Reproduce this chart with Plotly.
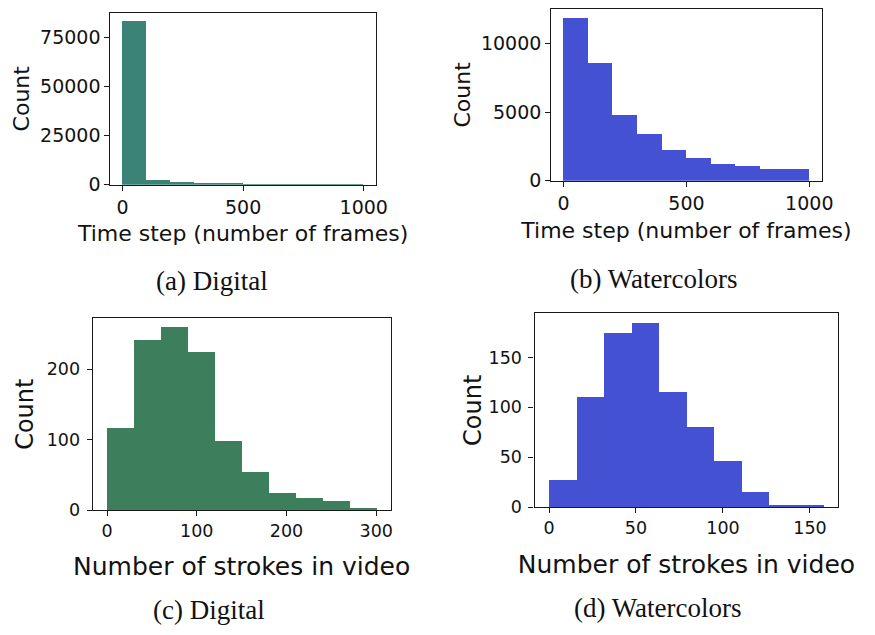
import plotly.graph_objects as go

# ---------------- data ----------------
# (a) Digital - time step histogram
a_edges = [0, 100, 200, 300, 400, 500, 600, 700, 800, 900, 1000]
a_counts = [83000, 2500, 1500, 600, 500, 450, 400, 120, 60, 40]
# (b) Watercolors - time step histogram
b_edges = [0, 100, 200, 300, 400, 500, 600, 700, 800, 900, 1000]
b_counts = [11900, 8600, 4830, 3400, 2250, 1680, 1250, 1100, 860, 860]
# (c) Digital - number of strokes in video
c_edges = [0, 30, 60, 90, 120, 150, 180, 210, 240, 270, 300]
c_counts = [116, 241, 259, 224, 97, 53, 24, 16, 12, 3]
# (d) Watercolors - number of strokes in video
d_edges = [0, 15.8, 31.6, 47.4, 63.2, 79.0, 94.8, 110.6, 126.4, 142.2, 158.0]
d_counts = [27, 110, 174, 184, 115, 80, 46, 15, 2, 2]

captions = ["(a) Digital", "(b) Watercolors", "(c) Digital", "(d) Watercolors"]
x_titles = ["Time step (number of frames)", "Time step (number of frames)",
            "Number of strokes in video", "Number of strokes in video"]
y_title = "Count"

GREEN_A = "#3b8377"
GREEN_C = "#3d7e5c"
BLUE = "#4351d2"

W, H = 875, 635


def px_x(p):
    return p / W


def px_y(p):
    return 1 - p / H


def centers(edges):
    return [(edges[i] + edges[i + 1]) / 2 for i in range(len(edges) - 1)]


def widths(edges):
    return [edges[i + 1] - edges[i] for i in range(len(edges) - 1)]


panels = [
    dict(edges=a_edges, counts=a_counts, color=GREEN_A,
         dx=(112, 381), dy=(13, 188), xr=[-50, 1050], yr=[0, 87300],
         xt=[0, 500, 1000], yt=[0, 25000, 50000, 75000], tf=19, tt=22, yf=22,
         xs=8, ys=4, ls=0),
    dict(edges=b_edges, counts=b_counts, color=BLUE,
         dx=(559, 833), dy=(9, 184), xr=[-50, 1050], yr=[0, 12550],
         xt=[0, 500, 1000], yt=[0, 5000, 10000], tf=19, tt=22, yf=22,
         xs=9, ys=4, ls=0),
    dict(edges=c_edges, counts=c_counts, color=GREEN_C,
         dx=(94, 396), dy=(324, 519), xr=[-16, 316], yr=[0, 272],
         xt=[0, 100, 200, 300], yt=[0, 100, 200], tf=17.5, tt=25, yf=24,
         xs=17, ys=6, ls=3),
    dict(edges=d_edges, counts=d_counts, color=BLUE,
         dx=(542, 850), dy=(319, 516), xr=[-8.3, 166.3], yr=[0, 194],
         xt=[0, 50, 100, 150], yt=[0, 50, 100, 150], tf=17.5, tt=25, yf=24,
         xs=18, ys=0, ls=3),
]

fig = go.Figure()
layout = dict(
    width=W, height=H, margin=dict(l=0, r=0, t=0, b=0),
    paper_bgcolor="white", plot_bgcolor="white", showlegend=False,
    bargap=0, font=dict(family="DejaVu Sans", color="#121212"),
)

for i, p in enumerate(panels):
    n = "" if i == 0 else str(i + 1)
    fig.add_trace(go.Bar(
        x=centers(p["edges"]), y=p["counts"], width=widths(p["edges"]),
        marker=dict(color=p["color"], line=dict(width=0)),
        xaxis="x" + n, yaxis="y" + n,
    ))
    common = dict(showline=True, linecolor="#1a1a1a", linewidth=1.3, mirror=True,
                  ticks="outside", ticklen=5, tickwidth=1.2, tickcolor="#1a1a1a",
                  showgrid=False, zeroline=False, tickformat="d")
    layout["xaxis" + n] = dict(
        common, domain=[px_x(p["dx"][0]), px_x(p["dx"][1])], range=p["xr"],
        tickvals=p["xt"], tickfont=dict(size=p["tf"]), anchor="y" + n,
        title=dict(text=x_titles[i], font=dict(size=p["tt"]), standoff=p["xs"]),
    )
    layout["yaxis" + n] = dict(
        common, domain=[px_y(p["dy"][1]), px_y(p["dy"][0])], range=p["yr"],
        tickvals=p["yt"], tickfont=dict(size=p["tf"]), anchor="x" + n,
        ticklabelstandoff=p["ls"],
        title=dict(text=y_title, font=dict(size=p["yf"]), standoff=p["ys"]),
    )

cap_pos = [(215, 286), (663, 284), (212, 621), (667, 619)]
annotations = []
for cap, (cx, cy) in zip(captions, cap_pos):
    annotations.append(dict(
        text=cap, x=px_x(cx), y=px_y(cy), xref="paper", yref="paper",
        showarrow=False, xanchor="center", yanchor="middle",
        font=dict(family="Liberation Serif", size=27, color="#111111"),
    ))
layout["annotations"] = annotations

fig.update_layout(**layout)
fig.write_html("out.html")
